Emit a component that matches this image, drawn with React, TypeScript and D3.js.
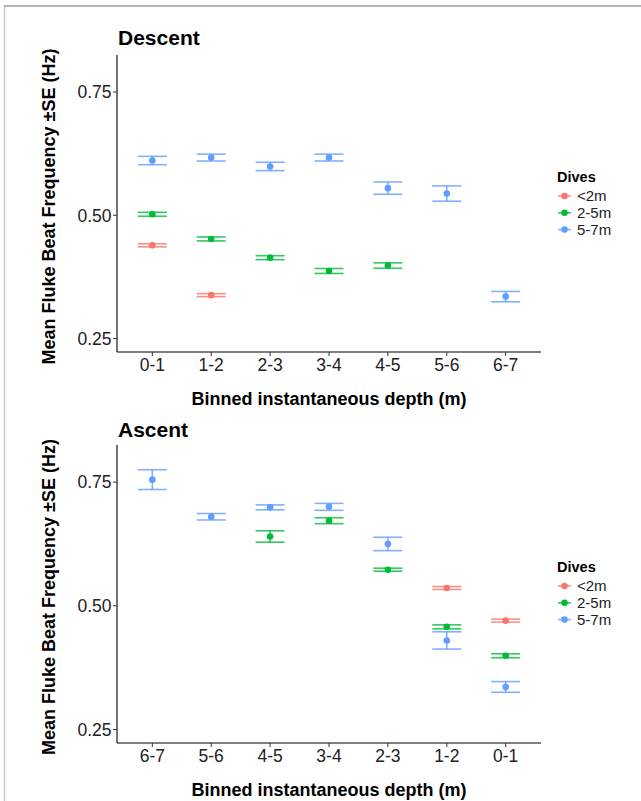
import React from "react";
import * as d3 from "d3";

const descentBins = ["0-1", "1-2", "2-3", "3-4", "4-5", "5-6", "6-7"];
const ascentBins = ["6-7", "5-6", "4-5", "3-4", "2-3", "1-2", "0-1"];
const diveGroups = ["<2m", "2-5m", "5-7m"];
const groupColors = ["#F8766D", "#00BA38", "#619CFF"];
const yTicks = [0.25, 0.5, 0.75];

// means / standard errors, aligned with the bins above (null = no data)
const descentMeanLt2 = [0.439, 0.338, null, null, null, null, null];
const descentSeLt2 = [0.003, 0.003, null, null, null, null, null];
const descentMean2to5 = [0.502, 0.452, 0.414, 0.387, 0.398, null, null];
const descentSe2to5 = [0.004, 0.004, 0.004, 0.005, 0.0055, null, null];
const descentMean5to7 = [0.611, 0.617, 0.599, 0.617, 0.555, 0.544, 0.335];
const descentSe5to7 = [0.0085, 0.007, 0.0085, 0.007, 0.0125, 0.0155, 0.0105];

const ascentMeanLt2 = [null, null, null, null, null, 0.536, 0.47];
const ascentSeLt2 = [null, null, null, null, null, 0.003, 0.003];
const ascentMean2to5 = [null, null, 0.64, 0.672, 0.573, 0.4575, 0.399];
const ascentSe2to5 = [null, null, 0.0115, 0.006, 0.003, 0.004, 0.004];
const ascentMean5to7 = [0.755, 0.68, 0.699, 0.7, 0.625, 0.43, 0.336];
const ascentSe5to7 = [0.02, 0.0065, 0.005, 0.007, 0.0135, 0.0175, 0.0108];

const FONT = "'Liberation Sans', Arial, sans-serif";

type Panel = {
  title: string;
  bins: string[];
  means: (number | null)[][];
  ses: (number | null)[][];
  top: number;
  bottom: number;
  titleY: number;
  legendY: number;
};

const panels: Panel[] = [
  {
    title: "Descent",
    bins: descentBins,
    means: [descentMeanLt2, descentMean2to5, descentMean5to7],
    ses: [descentSeLt2, descentSe2to5, descentSe5to7],
    top: 55,
    bottom: 352,
    titleY: 45,
    legendY: 182,
  },
  {
    title: "Ascent",
    bins: ascentBins,
    means: [ascentMeanLt2, ascentMean2to5, ascentMean5to7],
    ses: [ascentSeLt2, ascentSe2to5, ascentSe5to7],
    top: 445,
    bottom: 743,
    titleY: 437,
    legendY: 572,
  },
];

const left = 117;
const right = 541;

function ChartPanel({ p }: { p: Panel }) {
  const x = d3
    .scalePoint<string>()
    .domain(p.bins)
    .range([left, right])
    .padding(0.6);
  const y = d3.scaleLinear().domain([0.2227, 0.825]).range([p.bottom, p.top]);
  const capW = 14.5;

  return (
    <g>
      <text x={118} y={p.titleY} fontFamily={FONT} fontWeight="bold" fontSize={21}>
        {p.title}
      </text>
      {/* points + error bars */}
      {p.means.map((series, gi) =>
        series.map((m, i) => {
          if (m === null) return null;
          const se = p.ses[gi][i] as number;
          const cx = x(p.bins[i]) as number;
          const col = groupColors[gi];
          return (
            <g key={gi + "-" + i}>
              <g stroke={col} strokeWidth={1.6} strokeOpacity={0.8}>
                <line x1={cx - capW} x2={cx + capW} y1={y(m + se)} y2={y(m + se)} />
                <line x1={cx - capW} x2={cx + capW} y1={y(m - se)} y2={y(m - se)} />
                <line x1={cx} x2={cx} y1={y(m + se)} y2={y(m - se)} />
              </g>
              <circle cx={cx} cy={y(m)} r={3.3} fill={col} />
            </g>
          );
        })
      )}
      {/* axes */}
      <line x1={left} x2={left} y1={p.top} y2={p.bottom} stroke="#000" strokeWidth={1.1} />
      <line x1={left} x2={right} y1={p.bottom} y2={p.bottom} stroke="#000" strokeWidth={1.1} />
      {yTicks.map((t) => (
        <g key={t}>
          <line x1={left - 4} x2={left} y1={y(t)} y2={y(t)} stroke="#333" strokeWidth={1} />
          <text
            x={left - 5.5}
            y={y(t)}
            dy="0.36em"
            textAnchor="end"
            fontFamily={FONT}
            fontSize={17.5}
            fill="#222"
          >
            {d3.format(".2f")(t)}
          </text>
        </g>
      ))}
      {p.bins.map((b) => (
        <g key={b}>
          <line
            x1={x(b)}
            x2={x(b)}
            y1={p.bottom}
            y2={p.bottom + 4}
            stroke="#333"
            strokeWidth={1}
          />
          <text
            x={x(b)}
            y={p.bottom + 18.5}
            textAnchor="middle"
            fontFamily={FONT}
            fontSize={17.5}
            fill="#222"
          >
            {b}
          </text>
        </g>
      ))}
      <text
        x={(left + right) / 2}
        y={p.bottom + 53}
        textAnchor="middle"
        fontFamily={FONT}
        fontWeight="bold"
        fontSize={18}
      >
        Binned instantaneous depth (m)
      </text>
      <text
        transform={`translate(55,${(p.top + p.bottom) / 2 + 3}) rotate(-90)`}
        textAnchor="middle"
        fontFamily={FONT}
        fontWeight="bold"
        fontSize={18}
      >
        Mean Fluke Beat Frequency ±SE (Hz)
      </text>
      {/* legend */}
      <text x={557} y={p.legendY} fontFamily={FONT} fontWeight="bold" fontSize={14.5}>
        Dives
      </text>
      {diveGroups.map((g, gi) => {
        const cy = p.legendY + 14 + gi * 16.8;
        return (
          <g key={g}>
            <line
              x1={558}
              x2={571}
              y1={cy}
              y2={cy}
              stroke={groupColors[gi]}
              strokeWidth={1.6}
              strokeOpacity={0.8}
            />
            <circle cx={564.5} cy={cy} r={3.3} fill={groupColors[gi]} />
            <text x={577} y={cy} dy="0.36em" fontFamily={FONT} fontSize={15} fill="#222">
              {g}
            </text>
          </g>
        );
      })}
    </g>
  );
}

export default function App() {
  return (
    <div style={{ position: "absolute", left: 0, top: 0 }}>
      <svg width={641} height={801} style={{ display: "block", background: "#fff" }}>
        <line x1={4.5} x2={4.5} y1={6} y2={801} stroke="#c8c8cc" strokeWidth={1.5} />
        <line x1={4} x2={641} y1={6} y2={6} stroke="#9c9aa8" strokeWidth={1.5} />
        {panels.map((p) => (
          <ChartPanel key={p.title} p={p} />
        ))}
      </svg>
    </div>
  );
}
